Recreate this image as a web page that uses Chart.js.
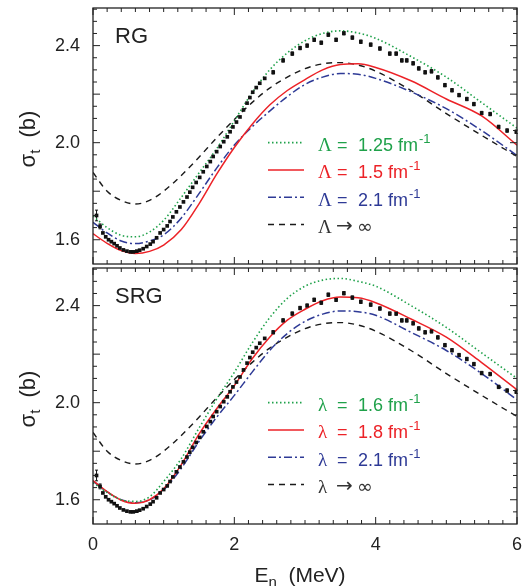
<!DOCTYPE html>
<html>
<head>
<meta charset="utf-8">
<script src="https://cdn.jsdelivr.net/npm/chart.js@4"></script>
<style>
  html, body { margin: 0; padding: 0; background: #fff; }
  #wrap { position: relative; width: 531px; height: 586px; }
  canvas { position: absolute; left: 0; }
  #top { top: 0; }
  #bot { top: 264px; }
</style>
</head>
<body>
<div id="wrap">
  <canvas id="top" width="531" height="268"></canvas>
  <canvas id="bot" width="531" height="322"></canvas>
</div>
<script>
// energy grid (MeV) for the theory curves
const eGrid = [0, 0.2, 0.4, 0.6, 0.8, 1.0, 1.25, 1.5, 1.75, 2.0, 2.25, 2.5, 2.75, 3.0, 3.25, 3.5, 3.75, 4.0, 4.5, 5.0, 5.5, 6.0];

// RG panel, sigma_t (b)
const rg125 = [1.698, 1.650, 1.618, 1.612, 1.632, 1.680, 1.775, 1.875, 1.975, 2.090, 2.205, 2.300, 2.370, 2.420, 2.450, 2.461, 2.452, 2.430, 2.355, 2.270, 2.165, 2.060];
const rg15  = [1.625, 1.585, 1.555, 1.543, 1.552, 1.578, 1.642, 1.748, 1.870, 1.980, 2.075, 2.155, 2.215, 2.260, 2.300, 2.322, 2.325, 2.310, 2.255, 2.180, 2.110, 1.990];
const rg21  = [1.672, 1.628, 1.595, 1.584, 1.595, 1.620, 1.690, 1.790, 1.895, 1.990, 2.065, 2.130, 2.190, 2.240, 2.270, 2.285, 2.282, 2.265, 2.210, 2.140, 2.050, 1.947];
// unevolved potential, same in both panels
const bare  = [1.877, 1.800, 1.762, 1.747, 1.762, 1.800, 1.865, 1.940, 2.020, 2.095, 2.165, 2.225, 2.270, 2.305, 2.325, 2.330, 2.320, 2.295, 2.215, 2.120, 2.030, 1.943];

// SRG panel
const srg16 = [1.670, 1.630, 1.600, 1.593, 1.612, 1.675, 1.770, 1.895, 2.015, 2.125, 2.245, 2.350, 2.430, 2.480, 2.505, 2.512, 2.500, 2.480, 2.400, 2.310, 2.205, 2.100];
const srg18 = [1.679, 1.633, 1.598, 1.585, 1.600, 1.645, 1.745, 1.870, 1.975, 2.070, 2.180, 2.270, 2.340, 2.385, 2.420, 2.435, 2.432, 2.412, 2.345, 2.270, 2.165, 2.053];
const srg21 = [1.677, 1.632, 1.600, 1.588, 1.600, 1.640, 1.730, 1.840, 1.940, 2.030, 2.125, 2.215, 2.285, 2.335, 2.365, 2.378, 2.375, 2.360, 2.290, 2.215, 2.120, 2.012];

// measured n-d total cross section
const expE = [0.05, 0.10, 0.14, 0.18, 0.22, 0.26, 0.30, 0.34, 0.38, 0.43, 0.48, 0.53, 0.57, 0.62, 0.66, 0.71, 0.76, 0.81, 0.85, 0.90,
  0.95, 1.00, 1.05, 1.09, 1.13, 1.18, 1.23, 1.28, 1.33, 1.37, 1.41, 1.46, 1.51, 1.56, 1.61, 1.66, 1.70, 1.75, 1.80, 1.85,
  1.90, 1.94, 1.98, 2.03, 2.08, 2.13, 2.18, 2.22, 2.26, 2.31, 2.36, 2.43, 2.55, 2.69, 2.82, 2.93, 3.03, 3.13, 3.23, 3.33,
  3.44, 3.55, 3.67, 3.79, 3.93, 4.06, 4.20, 4.29, 4.37, 4.44, 4.53, 4.61, 4.70, 4.79, 4.88, 4.98, 5.08, 5.18, 5.29, 5.39,
  5.50, 5.62, 5.74, 5.86, 5.99];
const expSig = [1.700, 1.655, 1.628, 1.612, 1.600, 1.592, 1.584, 1.575, 1.566, 1.558, 1.553, 1.550, 1.550, 1.553, 1.557, 1.563, 1.572, 1.582, 1.592, 1.608,
  1.628, 1.642, 1.657, 1.675, 1.694, 1.715, 1.735, 1.756, 1.776, 1.796, 1.816, 1.836, 1.857, 1.880, 1.902, 1.922, 1.943, 1.963, 1.984, 2.004,
  2.024, 2.045, 2.065, 2.085, 2.106, 2.135, 2.163, 2.186, 2.208, 2.227, 2.245, 2.265, 2.290, 2.339, 2.367, 2.390, 2.400, 2.424, 2.412, 2.445,
  2.424, 2.451, 2.433, 2.416, 2.404, 2.388, 2.367, 2.367, 2.339, 2.339, 2.327, 2.306, 2.290, 2.294, 2.269, 2.237, 2.216, 2.196, 2.180, 2.159,
  2.122, 2.118, 2.065, 2.050, 2.045];
const expErr = expE.map((e, i) => i === 0 ? 0.022 : i === 1 ? 0.010 : e > 2.5 ? 0.007 : 0);

const xTicks = [0, 2, 4, 6];
const yTicks = [1.6, 2.0, 2.4];
const rgLegend = ['1.25', '1.5', '2.1', null];
const srgLegend = ['1.6', '1.8', '2.1', null];

const SANS = '"Liberation Sans", Arial, sans-serif';
const SERIF = '"Liberation Serif", "Times New Roman", serif';
const GREEN = '#1fa14a', RED = '#ec2227', BLUE = '#2e3a96', BLACK = '#1a1a1a';

const pts = vals => eGrid.map((e, i) => ({ x: e, y: vals[i] }));

function curve(vals, color, dash, width, textColor) {
  return {
    data: pts(vals), borderColor: color, borderDash: dash, borderWidth: width,
    pointRadius: 0, cubicInterpolationMode: 'monotone', fill: false, textColor: textColor || color
  };
}

function expSet() {
  return {
    data: expE.map((e, i) => ({ x: e, y: expSig[i] })), errors: expErr,
    showLine: false, pointStyle: 'rect', pointRadius: 2.6, pointBorderWidth: 0,
    pointBackgroundColor: '#111', borderColor: '#111'
  };
}

function line(ctx, x1, y1, x2, y2) {
  ctx.beginPath(); ctx.moveTo(x1, y1); ctx.lineTo(x2, y2); ctx.stroke();
}

const decor = {
  id: 'decor',
  beforeDatasetsDraw(chart) {
    const { ctx, scales: { y } } = chart;
    ctx.save();
    ctx.strokeStyle = '#111'; ctx.lineWidth = 1;
    chart.data.datasets.forEach((ds, i) => {
      if (!ds.errors) return;
      chart.getDatasetMeta(i).data.forEach((p, j) => {
        const e = ds.errors[j];
        if (!e) return;
        const y1 = y.getPixelForValue(ds.data[j].y + e), y2 = y.getPixelForValue(ds.data[j].y - e);
        line(ctx, p.x, y1, p.x, y2);
        line(ctx, p.x - 1.5, y1, p.x + 1.5, y1);
        line(ctx, p.x - 1.5, y2, p.x + 1.5, y2);
      });
    });
    ctx.restore();
  },
  afterDraw(chart, args, o) {
    const { ctx, chartArea: a, scales: { x, y } } = chart;
    ctx.save();
    // frame with inward ticks
    ctx.strokeStyle = '#222'; ctx.lineWidth = 1.3;
    ctx.strokeRect(a.left, a.top, a.right - a.left, a.bottom - a.top);
    ctx.lineWidth = 1;
    for (let k = 0; k <= 30; k++) {
      const v = k * 0.2, px = x.getPixelForValue(v), len = k % 10 === 0 ? 7 : 4;
      line(ctx, px, a.bottom, px, a.bottom - len);
      line(ctx, px, a.top, px, a.top + len);
    }
    for (let k = 0; k <= 21; k++) {
      const v = 1.5 + k * 0.05, py = y.getPixelForValue(v);
      if (py < a.top + 1 || py > a.bottom - 1) continue;
      const len = k % 4 === 2 ? 7 : 4;
      line(ctx, a.left, py, a.left + len, py);
      line(ctx, a.right, py, a.right - len, py);
    }
    // tick labels
    ctx.fillStyle = '#222';
    ctx.font = '18px ' + SANS;
    ctx.textBaseline = 'middle';
    ctx.textAlign = 'right';
    yTicks.forEach(v => ctx.fillText(v.toFixed(1), a.left - 13, y.getPixelForValue(v)));
    if (o.xTitle) {
      ctx.textAlign = 'center';
      xTicks.forEach(v => ctx.fillText(String(v), x.getPixelForValue(v), a.bottom + 21));
    }
    ctx.textAlign = 'left';
    ctx.textBaseline = 'alphabetic';
    // panel label
    ctx.font = '22px ' + SANS;
    ctx.fillText(o.panel, 115, a.top + 35);
    // y title, rotated
    const yc = (a.top + a.bottom) / 2 + 3;
    ctx.save();
    ctx.translate(28, yc);
    ctx.rotate(-Math.PI / 2);
    ctx.font = '22px ' + SANS;
    const w1 = ctx.measureText('σ').width;
    ctx.font = '15px ' + SANS;
    const w2 = ctx.measureText('t').width;
    ctx.font = '22px ' + SANS;
    const w3 = ctx.measureText('  (b)').width;
    const sx = -(w1 + w2 + w3) / 2;
    ctx.fillText('σ', sx, 7);
    ctx.font = '15px ' + SANS;
    ctx.fillText('t', sx + w1, 12);
    ctx.font = '22px ' + SANS;
    ctx.fillText('  (b)', sx + w1 + w2, 7);
    ctx.restore();
    // x title on the lower panel
    if (o.xTitle) {
      const base = a.bottom + 58;
      ctx.font = '21px ' + SANS;
      const wE = ctx.measureText('E').width;
      ctx.font = '15px ' + SANS;
      const wn = ctx.measureText('n').width;
      ctx.font = '21px ' + SANS;
      const wm = ctx.measureText('  (MeV)').width;
      const tx = (a.left + a.right) / 2 - 5 - (wE + wn + wm) / 2;
      ctx.fillText('E', tx, base);
      ctx.font = '15px ' + SANS;
      ctx.fillText('n', tx + wE, base + 5);
      ctx.font = '21px ' + SANS;
      ctx.fillText('  (MeV)', tx + wE + wn, base);
    }
    // legend
    const y0 = y.getPixelForValue(2.0);
    const curves = chart.data.datasets.filter(d => !d.errors);
    curves.forEach((ds, k) => {
      const ry = y0 + k * 27.3, base = ry + 8.5;
      ctx.strokeStyle = ds.borderColor;
      ctx.lineWidth = ds.borderWidth;
      ctx.setLineDash(ds.borderDash || []);
      line(ctx, 268, ry, 304, ry);
      ctx.setLineDash([]);
      ctx.fillStyle = ds.textColor;
      ctx.font = '19px ' + SERIF;
      ctx.fillText(o.sym, 318, base);
      const val = o.legend[k];
      if (val) {
        ctx.font = '18px ' + SANS;
        ctx.fillText('=', 337, base);
        const t = val + ' fm';
        ctx.fillText(t, 358, base);
        const w = ctx.measureText(t).width;
        ctx.font = '13px ' + SANS;
        ctx.fillText('-1', 358 + w + 1, base - 8);
      } else {
        ctx.font = '20px "DejaVu Sans", ' + SANS;
        ctx.fillText('→', 336, base - 1);
        ctx.font = '19px "DejaVu Sans", ' + SANS;
        ctx.fillText('∞', 357, base);
      }
    });
    ctx.restore();
  }
};

function options(isBottom, decorOpts) {
  return {
    responsive: false,
    animation: false,
    layout: { padding: { top: isBottom ? 2 : 8, right: 14, bottom: isBottom ? 0 : 2, left: 0 } },
    plugins: { legend: { display: false }, tooltip: { enabled: false }, decor: decorOpts },
    scales: {
      x: {
        type: 'linear', min: 0, max: 6, display: isBottom,
        grid: { display: false, drawTicks: false }, border: { display: false },
        afterFit: s => { if (isBottom) s.height = 62; },
        ticks: { display: false }
      },
      y: {
        min: 1.5, max: 2.555,
        grid: { display: false, drawTicks: false }, border: { display: false },
        afterFit: s => { s.width = 93; },
        ticks: { display: false }
      }
    }
  };
}

new Chart(document.getElementById('top'), {
  type: 'line',
  data: {
    datasets: [
      expSet(),
      curve(rg125, GREEN, [1.5, 2.5], 1.6),
      curve(rg15, RED, [], 1.5),
      curve(rg21, BLUE, [8, 3, 2, 3], 1.5),
      curve(bare, BLACK, [6, 5], 1.4, '#333')
    ]
  },
  options: options(false, { panel: 'RG', sym: 'Λ', legend: rgLegend }),
  plugins: [decor]
});

new Chart(document.getElementById('bot'), {
  type: 'line',
  data: {
    datasets: [
      expSet(),
      curve(srg16, GREEN, [1.5, 2.5], 1.6),
      curve(srg18, RED, [], 1.5),
      curve(srg21, BLUE, [8, 3, 2, 3], 1.5),
      curve(bare, BLACK, [6, 5], 1.4, '#333')
    ]
  },
  options: options(true, { panel: 'SRG', sym: 'λ', legend: srgLegend, xTitle: true }),
  plugins: [decor]
});
</script>
</body>
</html>
